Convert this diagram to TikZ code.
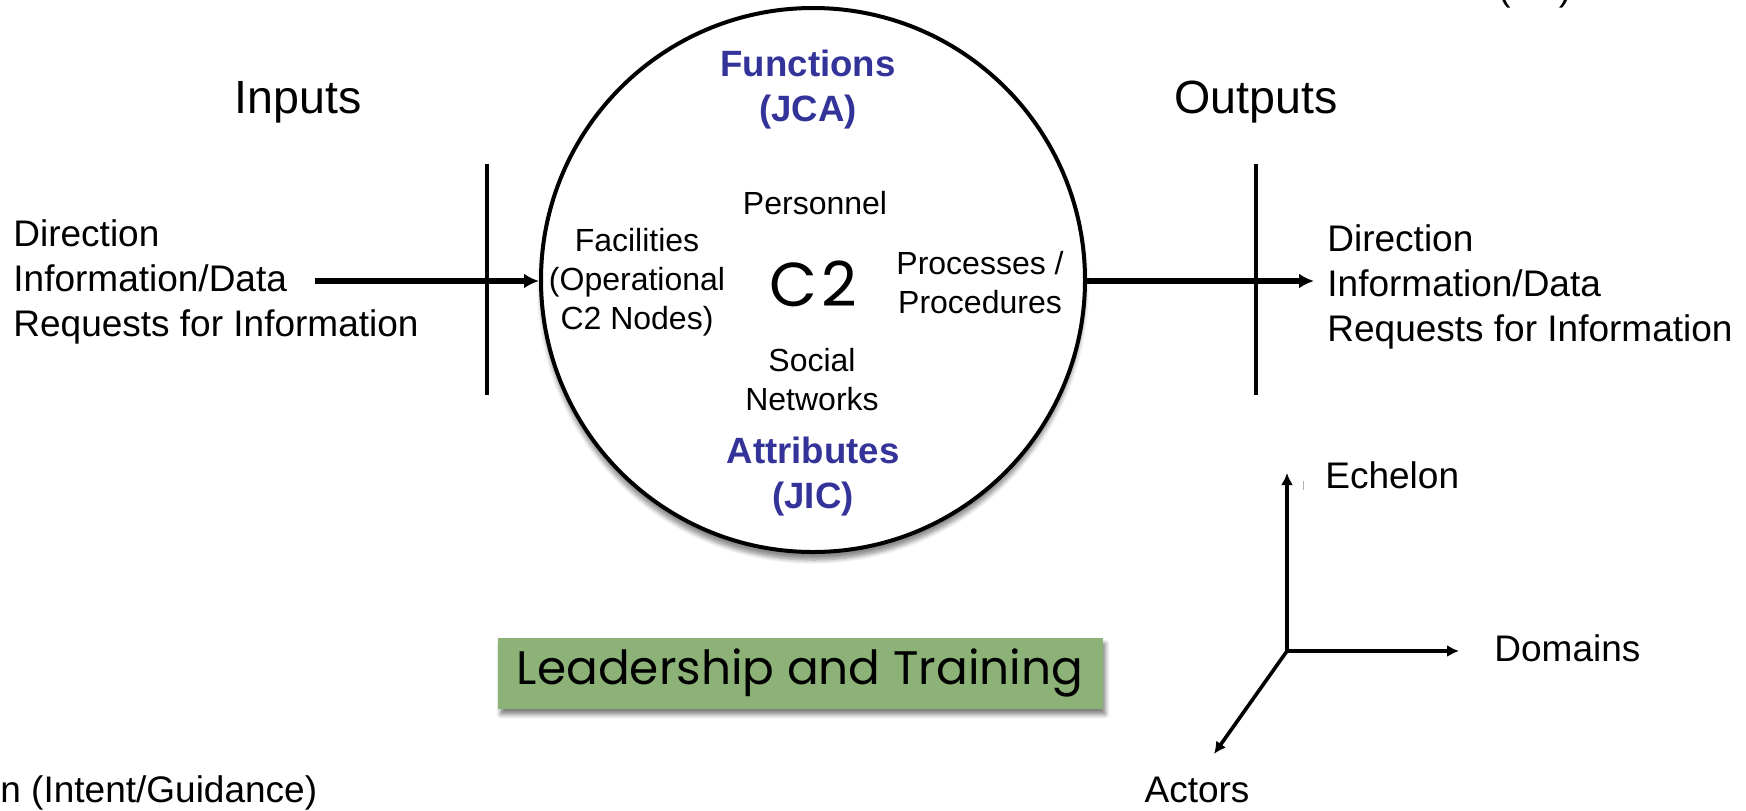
\documentclass[tikz,border=0pt]{standalone}
\usepackage{fontspec}
\setmainfont{Liberation Sans}
\newfontfamily\gothic{Poppins}
\usetikzlibrary{arrows.meta,shadows.blur}
\definecolor{jointblue}{RGB}{51,51,153}
\definecolor{leadgreen}{RGB}{140,178,120}

\tikzset{
  lbl/.style={inner sep=0pt, font=\fontsize{18.5}{22.5}\selectfont, align=left},
  biglbl/.style={inner sep=0pt, font=\fontsize{23.3}{28}\selectfont},
  inlbl/.style={inner sep=0pt, font=\fontsize{16}{19.5}\selectfont, align=center},
  bluelbl/.style={inner sep=0pt, font=\fontsize{18.3}{22.5}\selectfont\bfseries, text=jointblue, align=center},
  flow/.style={line width=2.6pt, -{Latex[length=7.5pt,width=7.5pt]}},
  axis/.style={line width=1.8pt, -{Latex[length=6pt,width=6pt]}},
  bar/.style={line width=2.3pt},
}

\begin{document}
\begin{tikzpicture}[x=0.5pt, y=-0.5pt]
\useasboundingbox (0,0) rectangle (1746,810);

\node[circle, draw, line width=2pt, minimum size=272pt, inner sep=0pt, fill=white,
  blur shadow={shadow xshift=0pt, shadow yshift=-4pt, shadow blur steps=6, shadow opacity=45}] (c2) at (813,280) {};

\node[bluelbl] (functions) at (808,90) {Functions\\(JCA)};
\node[bluelbl] (attributes) at (813,477) {Attributes\\(JIC)};
\node[inlbl] (personnel) at (815,203) {Personnel};
\node[inlbl] (facilities) at (637,282) {Facilities\\(Operational\\C2 Nodes)};
\node[inlbl] (processes) at (980,283) {Processes /\\Procedures};
\node[inlbl] (social) at (812,380) {Social\\Networks};
\node[inner sep=0pt, font=\gothic\fontsize{31}{34}\selectfont] (c2lbl) at (813,284) {C\kern2pt2};

\node[biglbl] (inputs) at (298,102) {Inputs};
\node[biglbl] (outputs) at (1256,102) {Outputs};

\node[lbl, anchor=west] (inlist) at (13,282) {Direction\\Information/Data\\Requests for Information};
\node[lbl, anchor=west] (outlist) at (1327,287) {Direction\\Information/Data\\Requests for Information};

\draw[bar] (487,164) -- (487,395);
\draw[bar] (1256,164) -- (1256,395);

\coordinate (intail) at (315,281);
\coordinate (outhead) at (1314,281);
\draw[flow] (intail) -- (intail -| c2.west);
\draw[flow] (outhead -| c2.east) -- (outhead);

\node[fill=leadgreen, minimum width=302.5pt, minimum height=35.5pt, inner sep=0pt,
  blur shadow={shadow xshift=1.5pt, shadow yshift=-3pt, shadow blur steps=5, shadow opacity=50},
  font=\gothic\fontsize{23.5}{27}\selectfont] (lead) at (800,673) {Leadership and Training};

\coordinate (origin) at (1287,651);
\coordinate (echelontip) at (1287,473);
\coordinate (domaintip) at (1459,651);
\coordinate (actortip) at (1214,754);
\draw[axis] (origin) -- (echelontip);
\draw[axis] (origin) -- (domaintip);
\draw[axis] (origin) -- (actortip);
\draw[gray!60, line width=0.5pt] (1303,481) -- (1303,490);

\node[lbl, anchor=west] (echelon) at (1325,475) {Echelon};
\node[lbl, anchor=west] (domains) at (1494,648) {Domains};
\node[lbl] (actors) at (1197,790) {Actors};

\node[lbl, anchor=west] (intent) at (0,793) {n (Intent/Guidance)};
\node[lbl, anchor=base west] (clipped) at (1498,0) {(\hspace{1.3em})};
\end{tikzpicture}
\end{document}
